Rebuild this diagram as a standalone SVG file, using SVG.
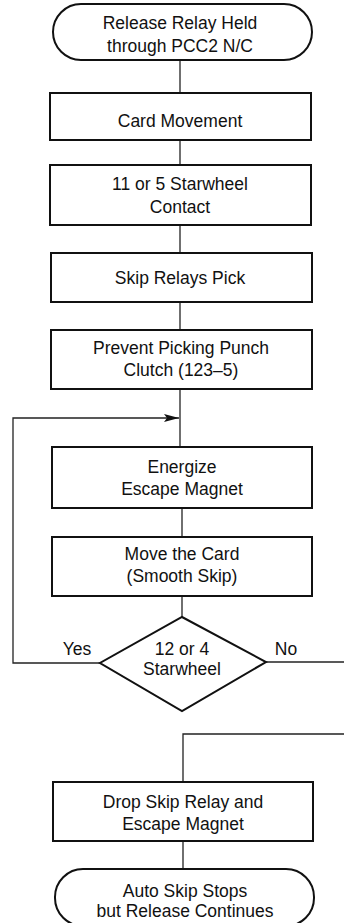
<svg xmlns="http://www.w3.org/2000/svg" width="344" height="923" viewBox="0 0 344 923">
<style>
.s{fill:#fff;stroke:#111;stroke-width:2}
.c{fill:none;stroke:#222;stroke-width:1.3}
text{font-family:"Liberation Sans",Arial,sans-serif;font-size:17.5px;fill:#111;text-anchor:middle}
</style>
<defs>
<marker id="ah" markerWidth="16" markerHeight="10" refX="15" refY="5" orient="auto" markerUnits="userSpaceOnUse">
<path d="M0,1 L15,5 L0,9 L3,5 Z" fill="#111"/>
</marker>
</defs>
<rect width="344" height="923" fill="#fff"/>
<g id="connectors">
<line class="c" x1="180" y1="60" x2="180" y2="93"/>
<line class="c" x1="180" y1="140" x2="180" y2="165"/>
<line class="c" x1="180" y1="225" x2="180" y2="253"/>
<line class="c" x1="180" y1="302" x2="180" y2="330"/>
<line class="c" x1="180" y1="389" x2="180" y2="447"/>
<line class="c" x1="182" y1="508" x2="182" y2="537"/>
<line class="c" x1="182" y1="596" x2="182" y2="617"/>
<polyline class="c" points="100,663 13,663 13,418 179,418" marker-end="url(#ah)"/>
<line class="c" x1="266" y1="662" x2="344" y2="662"/>
<polyline class="c" points="344,734 183,734 183,782"/>
<line class="c" x1="183" y1="841" x2="183" y2="869"/>
<text x="77" y="655">Yes</text>
<text x="286" y="655">No</text>
</g>
<g id="start">
<rect class="s" x="53" y="4" width="259" height="56" rx="28"/>
<text x="180" y="29">Release Relay Held</text>
<text x="180" y="52">through PCC2 N/C</text>
</g>
<g id="card-movement">
<rect class="s" x="50" y="93" width="261" height="47"/>
<text x="180" y="127">Card Movement</text>
</g>
<g id="starwheel-contact">
<rect class="s" x="50" y="165" width="261" height="60"/>
<text x="180" y="190">11 or 5 Starwheel</text>
<text x="180" y="213">Contact</text>
</g>
<g id="skip-relays">
<rect class="s" x="51" y="253" width="261" height="49"/>
<text x="180" y="284">Skip Relays Pick</text>
</g>
<g id="prevent-picking">
<rect class="s" x="51" y="330" width="261" height="59"/>
<text x="181" y="354">Prevent Picking Punch</text>
<text x="181" y="376">Clutch (123–5)</text>
</g>
<g id="energize">
<rect class="s" x="52" y="447" width="260" height="61"/>
<text x="182" y="473">Energize</text>
<text x="182" y="495">Escape Magnet</text>
</g>
<g id="move-card">
<rect class="s" x="52" y="537" width="260" height="59"/>
<text x="182" y="560">Move the Card</text>
<text x="182" y="582">(Smooth Skip)</text>
</g>
<g id="decision">
<polygon class="s" points="182,617 266,662 182,711 100,663"/>
<text x="182" y="655">12 or 4</text>
<text x="182" y="675">Starwheel</text>
</g>
<g id="drop-skip">
<rect class="s" x="53" y="782" width="260" height="59"/>
<text x="183" y="808">Drop Skip Relay and</text>
<text x="183" y="830">Escape Magnet</text>
</g>
<g id="end">
<rect class="s" x="55" y="869" width="259" height="57" rx="28"/>
<text x="185" y="897">Auto Skip Stops</text>
<text x="185" y="917">but Release Continues</text>
</g>
</svg>
